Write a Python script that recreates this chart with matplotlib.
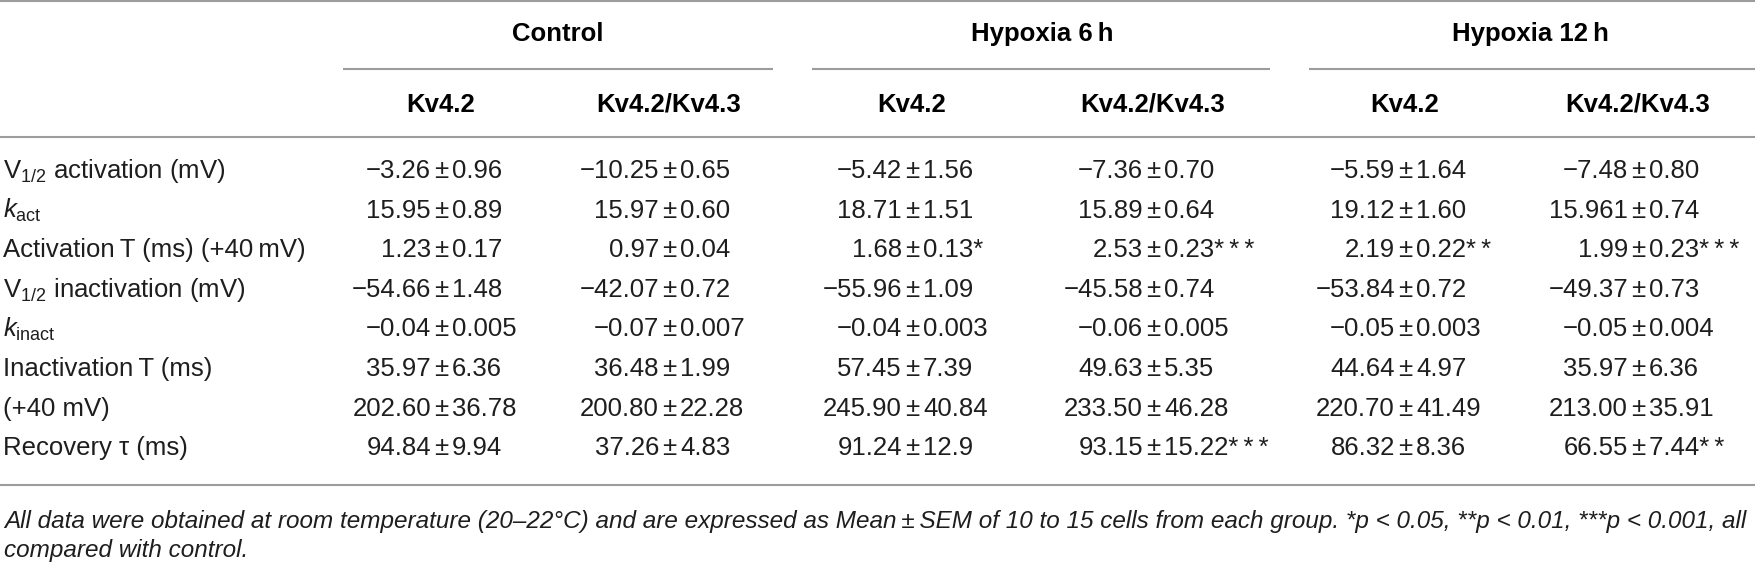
import matplotlib
matplotlib.use("Agg")
import matplotlib.pyplot as plt

plt.rcParams['font.family'] = ['Liberation Sans', 'DejaVu Sans']
plt.rcParams['mathtext.fontset'] = 'custom'
plt.rcParams['mathtext.rm'] = 'Liberation Sans'
plt.rcParams['mathtext.it'] = 'Liberation Sans:italic'
plt.rcParams['mathtext.bf'] = 'Liberation Sans:bold'

# --- table content ---
groups = ["Control", "Hypoxia 6\u2009h", "Hypoxia 12\u2009h"]
subheads = ["Kv4.2", "Kv4.2/Kv4.3", "Kv4.2", "Kv4.2/Kv4.3", "Kv4.2", "Kv4.2/Kv4.3"]
params = [
    r"V$_\mathrm{1/2}$ activation (mV)",
    r"$\mathit{k}_\mathrm{act}$",
    "Activation\u2009T (ms) (+40\u2009mV)",
    r"V$_\mathrm{1/2}$ inactivation (mV)",
    r"$\mathit{k}_\mathrm{inact}$",
    "Inactivation\u2009T (ms)",
    "(+40 mV)",
    "Recovery \u03c4 (ms)",
]

S1, S2, S3 = "*", "*\u2009*", "*\u2009*\u2009*"

ctrl_kv42_mean = ["\u22123.26", "15.95", "1.23", "\u221254.66", "\u22120.04", "35.97", "202.60", "94.84"]
ctrl_kv42_sem = ["0.96", "0.89", "0.17", "1.48", "0.005", "6.36", "36.78", "9.94"]
ctrl_kv43_mean = ["\u221210.25", "15.97", "0.97", "\u221242.07", "\u22120.07", "36.48", "200.80", "37.26"]
ctrl_kv43_sem = ["0.65", "0.60", "0.04", "0.72", "0.007", "1.99", "22.28", "4.83"]
h6_kv42_mean = ["\u22125.42", "18.71", "1.68", "\u221255.96", "\u22120.04", "57.45", "245.90", "91.24"]
h6_kv42_sem = ["1.56", "1.51", "0.13" + S1, "1.09", "0.003", "7.39", "40.84", "12.9"]
h6_kv43_mean = ["\u22127.36", "15.89", "2.53", "\u221245.58", "\u22120.06", "49.63", "233.50", "93.15"]
h6_kv43_sem = ["0.70", "0.64", "0.23" + S3, "0.74", "0.005", "5.35", "46.28", "15.22" + S3]
h12_kv42_mean = ["\u22125.59", "19.12", "2.19", "\u221253.84", "\u22120.05", "44.64", "220.70", "86.32"]
h12_kv42_sem = ["1.64", "1.60", "0.22" + S2, "0.72", "0.003", "4.97", "41.49", "8.36"]
h12_kv43_mean = ["\u22127.48", "15.961", "1.99", "\u221249.37", "\u22120.05", "35.97", "213.00", "66.55"]
h12_kv43_sem = ["0.80", "0.74", "0.23" + S3, "0.73", "0.004", "6.36", "35.91", "7.44" + S2]

means = [ctrl_kv42_mean, ctrl_kv43_mean, h6_kv42_mean, h6_kv43_mean, h12_kv42_mean, h12_kv43_mean]
sems = [ctrl_kv42_sem, ctrl_kv43_sem, h6_kv42_sem, h6_kv43_sem, h12_kv42_sem, h12_kv43_sem]

footnote = ["All data were obtained at room temperature (20\u201322\u00b0C) and are expressed as Mean\u2009\u00b1\u2009SEM "
            "of 10 to 15 cells from each group. *p < 0.05, **p < 0.01, ***p < 0.001, all",
            "compared with control."]

# --- layout (pixels) ---
W, H = 1756, 570
col_x = [441, 669, 912, 1153, 1405, 1638]
group_x = [558, 1042, 1530]
group_span = [(343, 773), (812, 1270), (1309, 1756)]
row_y0, row_dy = 178, 39.6
fs = 18.5
rule_c = '#9c9c9c'
txt_c = '#1e1e1e'
lw = 1.5

fig = plt.figure(figsize=(W / 100, H / 100), dpi=100)
ax = fig.add_axes([0, 0, 1, 1])
ax.set_xlim(0, W)
ax.set_ylim(H, 0)
ax.axis('off')

for y in [1.2, 137, 485]:
    ax.plot([0, W], [y, y], color=rule_c, lw=lw, solid_capstyle='butt')
for (x0, x1) in group_span:
    ax.plot([x0, x1], [69, 69], color=rule_c, lw=lw, solid_capstyle='butt')

for g, gx in zip(groups, group_x):
    ax.text(gx, 41, g, ha='center', va='baseline', fontsize=fs, fontweight='bold')
for s, cx in zip(subheads, col_x):
    ax.text(cx, 112, s, ha='center', va='baseline', fontsize=fs, fontweight='bold')

for i, p in enumerate(params):
    y = row_y0 + i * row_dy
    ax.text(3, y, p, ha='left', va='baseline', fontsize=fs, color=txt_c)
    for cx, m, s in zip(col_x, means, sems):
        ax.text(cx - 10, y, m[i], ha='right', va='baseline', fontsize=fs, color=txt_c)
        ax.text(cx, y, "\u00b1", ha='center', va='baseline', fontsize=fs, color=txt_c)
        ax.text(cx + 11, y, s[i], ha='left', va='baseline', fontsize=fs, color=txt_c)

# footnote: first line runs to the right edge in the reference, size it to fit
notes = []
for line, y in zip(footnote, [528, 557]):
    notes.append(ax.text(4, y, line, ha='left', va='baseline', fontsize=15,
                         style='italic', color=txt_c))
fig.canvas.draw()
w = notes[0].get_window_extent(renderer=fig.canvas.get_renderer()).width
fn_fs = 15 * (W - 8) / w
for t in notes:
    t.set_fontsize(fn_fs)

fig.savefig("out.png", dpi=100)
